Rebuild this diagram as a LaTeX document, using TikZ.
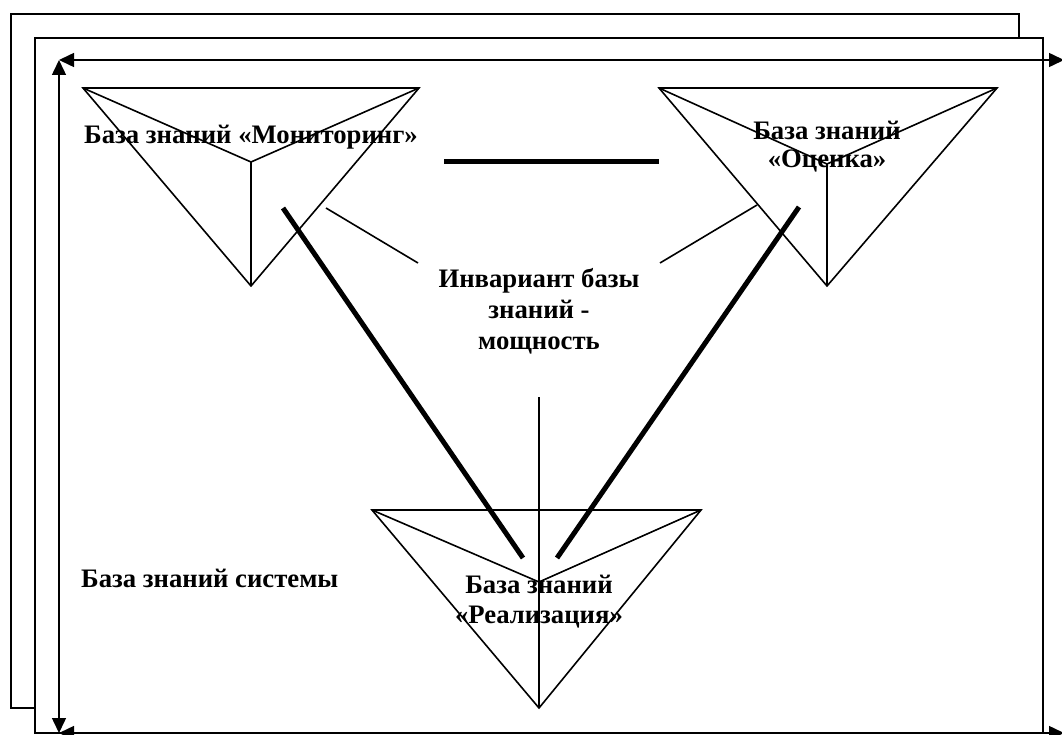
\documentclass[tikz,border=0pt]{standalone}
\usepackage{fontspec}
\setmainfont{Liberation Serif}
\usetikzlibrary{arrows.meta}
\tikzset{
  frame/.style={draw=black, line width=1.6pt, fill=white},
  axis/.style={line width=1.5pt, {Triangle[length=15pt,width=14pt]}-{Triangle[length=15pt,width=14pt]}},
  edge/.style={line width=1.6pt},
  bold/.style={line width=5pt},
  lbl/.style={font=\bfseries\fontsize{26.7}{30}\selectfont, align=center, inner sep=0pt}
}
\begin{document}
\begin{tikzpicture}[x=1pt,y=-1pt]
\clip (0,0) rectangle (1062,735);
\fill[white] (0,0) rectangle (1062,735);
% stacked frames
\draw[frame] (11,14) rectangle (1019,708);
\draw[frame] (35,38) rectangle (1043,733);
% axes
\coordinate (o) at (59,60);
\coordinate (tr) at (1064,60);
\coordinate (bl) at (59,733);
\coordinate (br) at (1064,733);
\draw[axis] (o) -- (tr);
\draw[axis] (o) -- (bl);
\draw[axis] (bl) -- (br);
% triangle Monitoring
\coordinate (m1) at (83,88);
\coordinate (m2) at (419,88);
\coordinate (m3) at (251,286);
\coordinate (mc) at (251,162);
\draw[edge] (m1) -- (m2) -- (m3) -- cycle;
\draw[edge] (m1) -- (mc) -- (m2);
\draw[edge] (mc) -- (m3);
% triangle Ocenka
\coordinate (e1) at (659,88);
\coordinate (e2) at (997,88);
\coordinate (e3) at (827,286);
\coordinate (ec) at (827,164);
\draw[edge] (e1) -- (e2) -- (e3) -- cycle;
\draw[edge] (e1) -- (ec) -- (e2);
\draw[edge] (ec) -- (e3);
% triangle Realizacia
\coordinate (r1) at (372,510);
\coordinate (r2) at (701,510);
\coordinate (r3) at (539,708);
\coordinate (rc) at (539,582);
\coordinate (rt) at (539,397);
\draw[edge] (r1) -- (r2) -- (r3) -- cycle;
\draw[edge] (r1) -- (rc) -- (r2);
\draw[edge] (rt) -- (rc) -- (r3);
% bold links
\coordinate (h1) at (444,162);
\coordinate (h2) at (659,162);
\draw[bold] (h1) -- (h2);
\coordinate (dl1) at (283,208);
\coordinate (dl2) at (523,558);
\draw[bold] (dl1) -- (dl2);
\coordinate (dr1) at (799,207);
\coordinate (dr2) at (557,558);
\draw[bold] (dr1) -- (dr2);
% thin links to invariant
\coordinate (tl1) at (326,208);
\coordinate (tl2) at (418,263);
\draw[edge] (tl1) -- (tl2);
\coordinate (tr1) at (757,205);
\coordinate (tr2) at (660,263);
\draw[edge] (tr1) -- (tr2);
% labels (multi-line: base = last line)
\node[lbl, anchor=base] (mon) at (251,144) {База знаний «Мониторинг»};
\node[lbl, anchor=base, font=\bfseries\fontsize{26.7}{28}\selectfont] (oc) at (827,168) {База знаний\\«Оценка»};
\node[lbl, anchor=base, font=\bfseries\fontsize{26.7}{31}\selectfont] (inv) at (539,349) {Инвариант базы\\знаний -\\мощность};
\node[lbl, anchor=base west] (sys) at (81,587) {База знаний системы};
\node[lbl, anchor=base, font=\bfseries\fontsize{26.7}{30}\selectfont] (real) at (539,623) {База знаний\\«Реализация»};
\end{tikzpicture}
\end{document}
